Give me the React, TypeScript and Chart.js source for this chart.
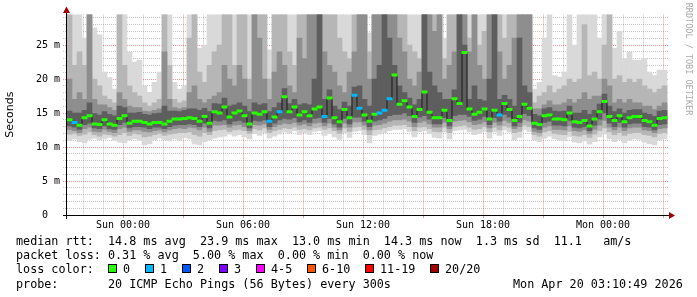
import React, { useEffect, useRef } from 'react';
import { Chart, registerables } from 'chart.js';

Chart.register(...registerables);

// ---------------- data ----------------
const START_HOUR = -2.8; // hours relative to Sun 00:00
const END_HOUR = 27.25;
const STEP_HOURS = 0.25;
const Y_MAX = 29.5; // ms

const X_TICK_HOURS = [0, 6, 12, 18, 24];
const X_TICK_LABELS = ['Sun 00:00', 'Sun 06:00', 'Sun 12:00', 'Sun 18:00', 'Mon 00:00'];
const Y_TICK_VALUES = [0, 5, 10, 15, 20, 25];
const Y_TICK_LABELS = ['0  ', '5 m', '10 m', '15 m', '20 m', '25 m'];

const MEDIAN_MS = [
  14.0, 13.6, 13.2, 14.3, 14.6, 13.4, 13.3, 14.0, 13.4, 13.2,
  14.2, 14.6, 13.5, 13.8, 13.8, 13.6, 13.4, 13.6, 13.6, 13.4,
  13.8, 14.1, 14.1, 14.2, 14.3, 14.2, 13.8, 14.5, 13.5, 15.2,
  15.0, 15.9, 14.4, 15.0, 15.3, 14.6, 13.4, 15.0, 14.8, 15.2,
  13.8, 14.4, 15.2, 17.4, 15.2, 15.9, 14.7, 15.2, 14.6, 15.6,
  15.9, 14.5, 17.2, 14.3, 13.7, 15.5, 14.3, 17.6, 15.7, 14.7,
  13.8, 14.8, 15.0, 15.4, 17.1, 20.6, 16.3, 16.8, 15.9, 14.5,
  15.5, 18.1, 15.1, 14.3, 14.3, 15.4, 13.9, 17.1, 16.4, 23.9,
  15.6, 14.8, 15.1, 15.6, 14.1, 15.4, 14.7, 16.4, 15.5, 13.9,
  14.5, 16.3, 15.7, 13.5, 13.3, 14.6, 14.7, 14.1, 14.1, 14.0,
  15.0, 13.7, 13.6, 13.9, 13.1, 14.1, 15.2, 16.7, 14.5, 13.9,
  14.6, 13.7, 14.3, 14.5, 14.5, 13.9, 13.7, 13.2, 14.2, 14.3,
];

const LOSS_BUCKET = [
  0, 1, 0, 0, 0, 0, 0, 0, 0, 0,
  0, 0, 0, 0, 0, 0, 0, 0, 0, 0,
  0, 0, 0, 0, 0, 0, 0, 0, 0, 0,
  0, 0, 0, 0, 0, 0, 0, 0, 0, 0,
  1, 0, 1, 0, 0, 0, 0, 0, 0, 0,
  0, 1, 0, 0, 0, 0, 0, 1, 1, 0,
  0, 0, 1, 1, 1, 0, 0, 0, 0, 0,
  0, 0, 0, 0, 0, 0, 0, 0, 0, 0,
  0, 0, 0, 0, 0, 0, 1, 0, 0, 0,
  0, 0, 0, 0, 0, 0, 0, 0, 0, 0,
  0, 0, 0, 0, 0, 0, 0, 0, 0, 0,
  0, 0, 0, 0, 0, 0, 0, 0, 0, 0,
];

// smoke layers (outer -> inner), top edges
const SMOKE_HI1 = [
  30, 30, 30, 26, 30, 27.5, 26.5, 21, 20.2, 18.5,
  30, 30, 24, 22.5, 22.8, 19, 18, 19.5, 21, 30,
  30, 19.5, 18.5, 19, 30, 30, 24.5, 25, 30, 30,
  30, 30, 30, 30, 30, 30, 30, 30, 30, 30,
  24.3, 30, 30, 30, 30, 30, 30, 30, 30, 30,
  30, 30, 30, 30, 30, 30, 30, 30, 30, 30,
  26.8, 30, 30, 30, 30, 30, 30, 30, 30, 30,
  30, 30, 30, 30, 30, 26, 30, 30, 30, 30,
  30, 30, 30, 30, 30, 30, 30, 30, 30, 30,
  30, 30, 30, 18.5, 19.5, 26, 30, 20.5, 20.3, 21,
  30, 25, 30, 30, 30, 30, 26, 30, 30, 24.5,
  27, 23, 24, 22.8, 22.8, 23, 21, 20.5, 21.3, 21.3,
];
const SMOKE_HI2 = [
  30, 22, 24, 22, 30, 20, 19, 17.5, 17, 16.5,
  30, 22, 19, 18, 17.5, 16.5, 16, 16.5, 17, 30,
  22, 17, 16.5, 16.8, 26, 30, 21, 19.5, 22, 24,
  25, 30, 30, 22, 30, 30, 20, 30, 30, 30,
  20, 30, 30, 30, 24, 22, 30, 30, 30, 30,
  30, 30, 30, 30, 26, 24, 23, 30, 30, 30,
  24, 30, 30, 30, 30, 30, 30, 30, 25, 24,
  23, 30, 30, 30, 30, 23, 30, 30, 30, 30,
  26, 30, 25, 27, 30, 30, 30, 26, 30, 30,
  30, 30, 30, 16.5, 17.5, 18, 19, 18, 18.5, 19,
  20, 19.5, 20, 28, 20.5, 21, 20, 25, 30, 20,
  20.5, 19.5, 20, 19.5, 20, 19, 18.5, 18, 18.5, 19,
];
const SMOKE_HI3 = [
  20, 17, 18, 17, 30, 17, 16.2, 16.2, 15.8, 15.4,
  18, 17, 16, 15.8, 15.8, 15.3, 15.2, 15.4, 15.6, 24,
  17, 15.8, 15.6, 15.8, 18, 19, 17, 16.5, 17, 17.5,
  18, 22, 20, 19, 22, 20, 17, 30, 26, 20,
  17, 21, 24, 22, 19, 18, 26, 23, 30, 30,
  30, 24, 22, 21, 19, 18, 21, 24, 30, 30,
  20, 30, 30, 30, 30, 30, 26, 24, 20, 19,
  21, 30, 30, 27, 30, 20, 22, 24, 30, 30,
  24, 30, 22, 20, 30, 30, 24, 20, 22, 26,
  30, 30, 30, 15.6, 15.6, 16.2, 16.8, 16.2, 16.2, 16.5,
  17, 16.5, 17, 18, 17, 17.5, 17.5, 20, 19, 16.5,
  17, 16.5, 17, 16.5, 16.5, 16, 16, 15.5, 16, 16.5,
];
const SMOKE_HI4 = [
  15.3, 15.0, 15.0, 15.4, 16.5, 14.9, 14.7, 15.2, 14.8, 14.6,
  16.0, 15.8, 15.0, 15.0, 15.1, 14.8, 14.7, 14.9, 15.0, 16.0,
  15.3, 15.3, 15.2, 15.4, 15.6, 15.6, 15.4, 15.7, 15.2, 16.4,
  16.3, 17.2, 16.0, 16.2, 16.5, 16.0, 15.2, 16.5, 16.2, 16.4,
  15.2, 15.8, 16.5, 18.6, 16.4, 17.0, 16.2, 16.4, 16.2, 20,
  30, 17, 18.4, 16, 15.5, 16.6, 16, 18.8, 19, 17,
  16, 20, 22, 30, 26, 22, 19, 18, 17.2, 16.2,
  17, 30, 21, 19, 18, 17, 17, 18.4, 30, 25,
  17, 19, 17, 16.8, 20, 30, 17, 17.6, 17, 16,
  26, 19, 18, 14.8, 14.6, 15.6, 15.8, 15.3, 15.2, 15.3,
  16.0, 15.0, 15.0, 15.4, 14.8, 15.4, 16.3, 17.8, 16.0, 15.2,
  15.6, 15.0, 15.4, 15.5, 15.5, 15.0, 14.8, 14.5, 15.3, 15.4,
];
// smoke layers, bottom edges
const SMOKE_LO1 = [
  10.9, 11.2, 10.8, 10.6, 11.1, 11.3, 11.0, 11.2, 11.4, 11.0,
  10.7, 10.6, 11.0, 11.2, 11.0, 10.3, 10.5, 11.0, 11.3, 11.0,
  10.9, 11.2, 11.0, 11.4, 11.2, 10.4, 10.3, 10.8, 11.0, 11.3,
  11.5, 11.6, 11.9, 11.6, 11.8, 11.5, 11.2, 12.0, 11.7, 12.1,
  11.3, 11.6, 11.9, 12.2, 12.0, 12.4, 11.8, 12.1, 11.8, 12.3,
  12.4, 11.7, 12.0, 11.5, 11.1, 12.1, 11.4, 12.3, 12.4, 11.8,
  10.6, 11.7, 11.9, 12.1, 12.4, 12.6, 12.6, 12.7, 12.3, 11.5,
  12.2, 12.4, 12.0, 11.4, 11.3, 12.2, 11.2, 12.4, 12.5, 12.6,
  12.2, 11.8, 12.0, 12.3, 11.3, 12.2, 11.7, 12.5, 12.2, 11.0,
  11.4, 12.6, 12.3, 11.0, 10.8, 11.3, 11.6, 11.2, 11.0, 10.9,
  11.5, 10.7, 10.6, 10.9, 10.4, 10.8, 11.5, 11.9, 11.2, 10.8,
  11.1, 10.6, 11.0, 11.2, 11.1, 10.7, 10.5, 10.3, 11.0, 11.2,
];
const SMOKE_LO2 = [
  11.9, 12.0, 11.7, 11.9, 12.2, 11.8, 11.6, 11.9, 11.8, 11.6,
  11.8, 12.1, 11.7, 12.0, 11.9, 11.5, 11.6, 11.8, 12.0, 11.7,
  11.9, 12.0, 12.1, 12.1, 12.2, 11.8, 11.6, 12.1, 11.8, 12.4,
  12.5, 12.6, 12.3, 12.5, 12.6, 12.4, 12.0, 12.7, 12.5, 12.8,
  12.1, 12.4, 12.6, 12.8, 12.7, 12.9, 12.6, 12.7, 12.5, 12.8,
  12.9, 12.6, 12.8, 12.4, 12.0, 12.8, 12.3, 12.9, 13.0, 12.6,
  11.8, 12.5, 12.6, 12.8, 13.0, 13.2, 13.2, 13.3, 13.0, 12.4,
  12.9, 13.0, 12.7, 12.3, 12.2, 12.9, 12.1, 13.0, 13.1, 13.2,
  12.9, 12.6, 12.7, 13.0, 12.2, 12.9, 12.5, 13.1, 12.9, 12.1,
  12.3, 13.2, 13.0, 11.8, 11.6, 12.2, 12.4, 12.0, 11.9, 11.8,
  12.3, 11.7, 11.6, 11.8, 11.4, 11.9, 12.4, 12.8, 12.2, 11.8,
  12.1, 11.7, 12.0, 12.1, 12.1, 11.8, 11.7, 11.5, 12.0, 12.1,
];
const SMOKE_LO3 = [
  12.6, 12.4, 12.1, 12.7, 12.9, 12.3, 12.2, 12.6, 12.3, 12.1,
  12.7, 12.9, 12.3, 12.5, 12.5, 12.3, 12.2, 12.4, 12.5, 12.2,
  12.5, 12.7, 12.8, 12.7, 12.9, 12.8, 12.5, 12.9, 12.3, 13.2,
  13.2, 13.3, 12.9, 13.2, 13.3, 13.0, 12.4, 13.3, 13.2, 13.4,
  12.6, 13.0, 13.3, 13.5, 13.4, 13.6, 13.2, 13.4, 13.1, 13.5,
  13.6, 13.1, 13.5, 12.9, 12.5, 13.5, 12.9, 13.7, 13.7, 13.2,
  12.5, 13.2, 13.3, 13.5, 13.8, 14.0, 14.0, 14.1, 13.8, 13.0,
  13.6, 13.8, 13.4, 12.9, 12.9, 13.6, 12.7, 13.8, 13.9, 14.0,
  13.7, 13.3, 13.4, 13.7, 12.8, 13.6, 13.2, 13.9, 13.6, 12.7,
  13.0, 14.0, 13.8, 12.3, 12.1, 12.9, 13.1, 12.6, 12.6, 12.5,
  13.1, 12.4, 12.3, 12.5, 12.0, 12.6, 13.2, 13.9, 12.9, 12.5,
  12.9, 12.4, 12.8, 12.9, 12.9, 12.5, 12.4, 12.1, 12.7, 12.8,
];
const SMOKE_LO4 = [
  13.1, 12.9, 12.6, 13.3, 13.5, 12.8, 12.7, 13.1, 12.7, 12.6,
  13.3, 13.6, 12.8, 13.0, 13.0, 12.9, 12.7, 12.9, 12.9, 12.7,
  13.0, 13.2, 13.3, 13.3, 13.4, 13.3, 13.0, 13.5, 12.8, 13.9,
  13.8, 14.0, 13.4, 13.8, 13.9, 13.6, 12.8, 13.9, 13.8, 14.0,
  13.0, 13.5, 14.0, 14.2, 14.1, 14.3, 13.7, 14.0, 13.6, 14.2,
  14.3, 13.6, 14.2, 13.4, 12.9, 14.2, 13.4, 14.4, 14.4, 13.8,
  13.0, 13.8, 14.0, 14.2, 14.6, 14.8, 14.8, 15.0, 14.6, 13.6,
  14.4, 14.6, 14.1, 13.4, 13.4, 14.3, 13.1, 14.6, 14.8, 14.8,
  14.5, 13.9, 14.1, 14.5, 13.3, 14.3, 13.8, 14.8, 14.4, 13.1,
  13.6, 14.9, 14.6, 12.8, 12.6, 13.6, 13.8, 13.2, 13.2, 13.1,
  13.9, 12.9, 12.8, 13.0, 12.4, 13.2, 14.1, 15.0, 13.5, 13.0,
  13.6, 12.9, 13.4, 13.5, 13.5, 13.0, 12.9, 12.5, 13.3, 13.4,
];

const SMOKE_COLORS = ['#d9d9d9', '#b6b6b6', '#8e8e8e', '#5e5e5e'];

const LOSS_LABELS = ['0', '1', '2', '3', '4-5', '6-10', '11-19', '20/20'];
const LOSS_COLORS = ['#26ff00', '#00b8ff', '#0059ff', '#7e00ff', '#ff00ff', '#ff5500', '#ff0000', '#a10000'];

const Y_TITLE = 'Seconds';
const WATERMARK = 'RRDTOOL / TOBI OETIKER';
const STATS_RTT = 'median rtt:  14.8 ms avg  23.9 ms max  13.0 ms min  14.3 ms now  1.3 ms sd  11.1   am/s';
const STATS_LOSS = 'packet loss: 0.31 % avg  5.00 % max  0.00 % min  0.00 % now';
const LOSS_TITLE = 'loss color:';
const PROBE_TEXT = 'probe:       20 ICMP Echo Pings (56 Bytes) every 300s';
const DATE_TEXT = 'Mon Apr 20 03:10:49 2026';

// ---------------- styling ----------------
const MONO = '"DejaVu Sans Mono"';
const GRID_MAJOR = 'rgba(224, 64, 64, 0.55)';
const GRID_MINOR = 'rgba(128, 128, 128, 0.45)';

const decorPlugin = {
  id: 'smokeDecor',
  afterDraw(chart: any) {
    const { ctx, chartArea: a } = chart;
    const bottom = Math.round(a.bottom);
    const left = Math.round(a.left);
    const right = Math.round(a.right);
    ctx.save();
    // axes
    ctx.fillStyle = '#000000';
    ctx.fillRect(left - 4, bottom, right - left + 5, 1);
    ctx.fillRect(left - 1, 12, 1, bottom - 12 + 4);
    // arrows
    ctx.fillStyle = '#a00000';
    ctx.beginPath();
    ctx.moveTo(left - 0.5, 6.5);
    ctx.lineTo(left - 4, 13);
    ctx.lineTo(left + 3, 13);
    ctx.closePath();
    ctx.fill();
    ctx.beginPath();
    ctx.moveTo(right + 7, bottom + 0.5);
    ctx.lineTo(right + 1, bottom - 3);
    ctx.lineTo(right + 1, bottom + 4);
    ctx.closePath();
    ctx.fill();

    // y title
    ctx.fillStyle = '#000000';
    ctx.font = '11px "DejaVu Sans"';
    ctx.textAlign = 'center';
    ctx.textBaseline = 'middle';
    ctx.save();
    ctx.translate(10.5, (a.top + a.bottom) / 2);
    ctx.rotate(-Math.PI / 2);
    ctx.fillText(Y_TITLE, 0, 0);
    ctx.restore();

    // watermark
    ctx.save();
    ctx.fillStyle = '#aaaaaa';
    ctx.font = '8.5px ' + MONO;
    ctx.translate(688, 59);
    ctx.rotate(Math.PI / 2);
    ctx.fillText(WATERMARK, 0, 0);
    ctx.restore();

    // legend
    ctx.font = '11.75px ' + MONO;
    ctx.textAlign = 'left';
    ctx.textBaseline = 'alphabetic';
    ctx.fillStyle = '#000000';
    const x0 = 16;
    const rows = [245, 259.2, 273.4, 287.6];
    ctx.fillText(STATS_RTT, x0, rows[0]);
    ctx.fillText(STATS_LOSS, x0, rows[1]);
    ctx.fillText(LOSS_TITLE, x0, rows[2]);
    const cw = ctx.measureText('0').width;
    let bx = x0 + 13 * cw;
    LOSS_LABELS.forEach((lab, i) => {
      const x = Math.round(bx);
      ctx.fillStyle = LOSS_COLORS[i];
      ctx.fillRect(x, 264, 8, 8);
      ctx.strokeStyle = '#000000';
      ctx.lineWidth = 1;
      ctx.strokeRect(x + 0.5, 264.5, 8, 8);
      ctx.fillStyle = '#000000';
      ctx.fillText(lab, x + 15, rows[2]);
      bx = x + 15 + lab.length * cw + 15;
    });
    ctx.fillText(PROBE_TEXT, x0, rows[3]);
    ctx.fillText(DATE_TEXT, 513, rows[3]);
    ctx.restore();
  },
};

export default function App() {
  const ref = useRef<HTMLCanvasElement>(null);

  useEffect(() => {
    const canvas = ref.current;
    if (!canvas) return;
    const hours = MEDIAN_MS.map((_, i) => START_HOUR + STEP_HOURS * (i + 0.5));
    const band = (lo: number[], hi: number[]) => hours.map((x, i) => ({ x, y: [lo[i], hi[i]] }));
    const layers = [
      { lo: SMOKE_LO1, hi: SMOKE_HI1 },
      { lo: SMOKE_LO2, hi: SMOKE_HI2 },
      { lo: SMOKE_LO3, hi: SMOKE_HI3 },
      { lo: SMOKE_LO4, hi: SMOKE_HI4 },
    ];
    const datasets: any[] = layers.map((l, k) => ({
      type: 'bar',
      data: band(l.lo, l.hi),
      backgroundColor: SMOKE_COLORS[k],
      borderWidth: 0,
      grouped: false,
      barPercentage: 1,
      categoryPercentage: 1,
      order: 10 - k,
    }));
    const medianPoints = hours.map((x, i) => ({ x, y: MEDIAN_MS[i] }));
    // dark stepped connector of the median
    datasets.push({
      type: 'line',
      data: medianPoints,
      stepped: 'middle',
      borderColor: '#1a1a1a',
      borderWidth: 1,
      pointRadius: 0,
      order: 1,
    });
    // loss-coloured median steps
    datasets.push({
      type: 'line',
      data: medianPoints,
      showLine: false,
      pointStyle: 'line',
      pointRadius: 3,
      pointBorderWidth: 3,
      pointBorderColor: LOSS_BUCKET.map((b) => LOSS_COLORS[b]),
      pointBackgroundColor: LOSS_BUCKET.map((b) => LOSS_COLORS[b]),
      order: 0,
    });

    const isWhole = (v: number) => Math.abs(v - Math.round(v)) < 1e-6;

    const chart = new Chart(canvas, {
      type: 'bar',
      data: { datasets },
      options: {
        animation: false,
        responsive: false,
        devicePixelRatio: 1,
        events: [],
        layout: { padding: { left: 0, right: 29, top: 14.4, bottom: 0 } },
        plugins: { legend: { display: false }, tooltip: { enabled: false } },
        scales: {
          x: {
            type: 'linear',
            min: START_HOUR,
            max: END_HOUR,
            offset: false,
            z: 1,
            grid: {
              offset: false,
              lineWidth: 1,
              drawTicks: true,
              tickLength: 3,
              color: (c: any) => (c.tick && Math.round(c.tick.value) % 3 === 0 ? GRID_MAJOR : GRID_MINOR),
              tickColor: (c: any) => (c.tick && Math.round(c.tick.value) % 3 === 0 ? GRID_MAJOR : 'rgba(0,0,0,0)'),
            },
            border: { display: false, dash: [1, 1] },
            ticks: {
              stepSize: 1,
              autoSkip: false,
              includeBounds: false,
              maxRotation: 0,
              minRotation: 0,
              padding: 1,
              color: '#000000',
              font: { family: 'DejaVu Sans Mono', size: 10 },
              callback: (v: any) => {
                const n = Number(v);
                const i = X_TICK_HOURS.indexOf(Math.round(n));
                return i >= 0 && isWhole(n) ? X_TICK_LABELS[i] : '';
              },
            },
            afterFit: (s: any) => {
              s.height = 82;
            },
          } as any,
          y: {
            type: 'linear',
            min: 0,
            max: Y_MAX,
            z: 1,
            grid: {
              lineWidth: 1,
              drawTicks: true,
              tickLength: 4,
              tickBorderDash: [1, 1],
              color: (c: any) => (c.tick && Math.round(c.tick.value) % 5 === 0 ? GRID_MAJOR : GRID_MINOR),
              tickColor: (c: any) => (c.tick && Math.round(c.tick.value) % 5 === 0 ? GRID_MAJOR : GRID_MINOR),
            },
            border: { display: false, dash: [1, 1] },
            ticks: {
              stepSize: 1,
              autoSkip: false,
              includeBounds: false,
              padding: 3,
              color: '#000000',
              font: { family: 'DejaVu Sans Mono', size: 10 },
              callback: (v: any) => {
                const n = Number(v);
                const i = Y_TICK_VALUES.indexOf(Math.round(n));
                return i >= 0 && isWhole(n) ? Y_TICK_LABELS[i] : '';
              },
            },
            afterFit: (s: any) => {
              s.width = 67;
            },
          } as any,
        },
      } as any,
      plugins: [decorPlugin],
    });
    return () => chart.destroy();
  }, []);

  return (
    <div style={{ position: 'fixed', left: 0, top: 0, width: 697, height: 297, background: '#ffffff' }}>
      <canvas ref={ref} width={697} height={297} style={{ display: 'block', width: 697, height: 297 }} />
    </div>
  );
}
